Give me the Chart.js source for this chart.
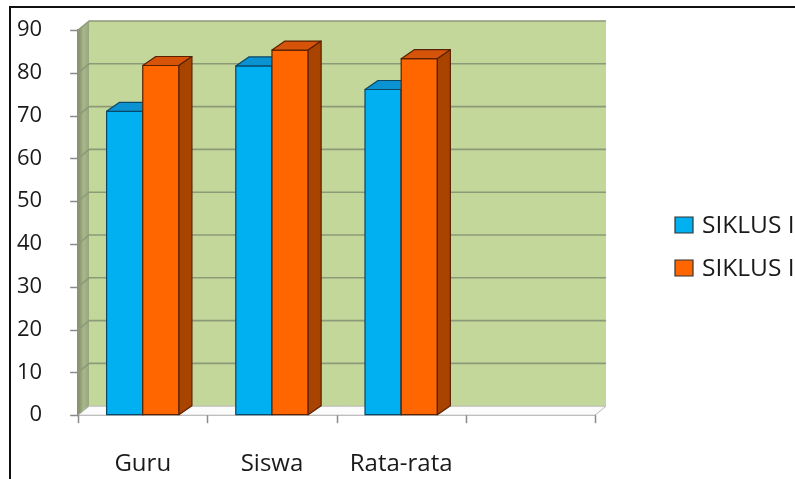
<!DOCTYPE html>
<html>
<head>
<meta charset="utf-8">
<script src="https://cdn.jsdelivr.net/npm/chart.js@4.4.0/dist/chart.umd.min.js"></script>
<style>
  html, body { margin: 0; padding: 0; background: #fff; overflow: hidden; }
  #frame { position: absolute; left: 9px; top: 6px; width: 900px; height: 600px; border: 2px solid #111; }
  #wrap { position: absolute; left: 0; top: 0; width: 795px; height: 479px; }
</style>
</head>
<body>
<div id="frame"></div>
<div id="wrap"><canvas id="chart" width="795" height="479"></canvas></div>
<script>
  // chart data
  const categories = ["Guru", "Siswa", "Rata-rata", ""];
  const siklus1 = [71, 81.6, 76.1, null];
  const siklus2 = [81.7, 85.3, 83.3, null];
  const seriesNames = ["SIKLUS I", "SIKLUS II"];
  const yMin = 0, yMax = 90, yStep = 10;

  const colors = [
    { front: "#00b0f0", top: "#0a93d0", side: "#0a78a8", edge: "#0b4766" },
    { front: "#ff6600", top: "#d5540a", side: "#a84300", edge: "#5a2200" }
  ];
  const FONT = "'Open Sans', sans-serif";
  const AXIS = "#8a8a8a";

  // wall / bar depth offsets
  const wall = { dx: 11, dy: -9 };
  const depth = { dx: 13, dy: -9 };

  const poly = (ctx, pts, fill, stroke, lw) => {
    ctx.beginPath();
    ctx.moveTo(pts[0][0], pts[0][1]);
    for (let i = 1; i < pts.length; i++) ctx.lineTo(pts[i][0], pts[i][1]);
    ctx.closePath();
    if (fill) { ctx.fillStyle = fill; ctx.fill(); }
    if (stroke) { ctx.strokeStyle = stroke; ctx.lineWidth = lw || 1; ctx.stroke(); }
  };

  const line = (ctx, x1, y1, x2, y2) => {
    ctx.beginPath();
    ctx.moveTo(x1, y1);
    ctx.lineTo(x2, y2);
    ctx.stroke();
  };

  const walls3d = {
    id: "walls3d",
    beforeDatasetsDraw(chart) {
      const { ctx, chartArea: a, scales: { x, y } } = chart;
      const y0 = y.getPixelForValue(yMin), yT = y.getPixelForValue(yMax);
      ctx.save();
      // back wall
      poly(ctx, [[a.left + wall.dx, yT + wall.dy], [a.right + wall.dx, yT + wall.dy],
                 [a.right + wall.dx, y0 + wall.dy], [a.left + wall.dx, y0 + wall.dy]], "#c4d79b");
      // left wall
      const g = ctx.createLinearGradient(a.left, 0, a.left + wall.dx, 0);
      g.addColorStop(0, "#7f8c66");
      g.addColorStop(0.5, "#a9b78c");
      g.addColorStop(1, "#97a67a");
      poly(ctx, [[a.left, yT], [a.left + wall.dx, yT + wall.dy],
                 [a.left + wall.dx, y0 + wall.dy], [a.left, y0]], g);
      // floor
      poly(ctx, [[a.left, y0], [a.left + wall.dx, y0 + wall.dy],
                 [a.right + wall.dx, y0 + wall.dy], [a.right, y0]], "#fbfbfb", "#b8b8b8", 1);
      // gridlines on the back wall
      ctx.strokeStyle = "#8c9a78";
      ctx.lineWidth = 1.6;
      for (let v = yMin + yStep; v <= yMax; v += yStep) {
        const py = y.getPixelForValue(v);
        ctx.beginPath();
        ctx.moveTo(a.left, py);
        ctx.lineTo(a.left + wall.dx, py + wall.dy);
        ctx.lineTo(a.right + wall.dx, py + wall.dy);
        ctx.stroke();
      }
      // tick marks on both axes
      ctx.strokeStyle = AXIS;
      ctx.lineWidth = 1.5;
      const step = (a.right - a.left) / chart.data.labels.length;
      for (let i = 0; i <= chart.data.labels.length; i++) {
        const px = Math.round(x.getPixelForValue(0) - step / 2 + i * step) + 0.5;
        line(ctx, px, y0, px, y0 + 8);
      }
      y.ticks.forEach((t) => {
        const py = Math.round(y.getPixelForValue(t.value)) + 0.5;
        line(ctx, a.left - 8, py, a.left, py);
      });
      ctx.restore();
    },
    afterDatasetsDraw(chart) {
      const { ctx } = chart;
      ctx.save();
      ctx.lineJoin = "round";
      const n = chart.data.labels.length;
      for (let i = 0; i < n; i++) {
        chart.data.datasets.forEach((ds, d) => {
          const bar = chart.getDatasetMeta(d).data[i];
          if (ds.data[i] == null || !bar) return;
          const c = colors[d];
          const half = bar.width / 2;
          const l = bar.x - half, r = bar.x + half, t = bar.y, b = bar.base;
          poly(ctx, [[l, b], [l, t], [r, t], [r, b]], c.front, c.edge, 1.2);
          poly(ctx, [[l, t], [l + depth.dx, t + depth.dy], [r + depth.dx, t + depth.dy], [r, t]], c.top, c.edge, 1.2);
          poly(ctx, [[r, t], [r + depth.dx, t + depth.dy], [r + depth.dx, b + depth.dy], [r, b]], c.side, c.edge, 1.2);
        });
      }
      ctx.restore();
    },
    afterDraw(chart) {
      const { ctx } = chart;
      ctx.save();
      ctx.font = "24.5px " + FONT;
      ctx.textBaseline = "middle";
      chart.data.datasets.forEach((ds, d) => {
        const ly = 225 + d * 43;
        poly(ctx, [[675, ly - 8], [693, ly - 8], [693, ly + 8], [675, ly + 8]], colors[d].front, "#333", 1.2);
        ctx.fillStyle = "#1a1a1a";
        ctx.fillText(ds.label, 702, ly + 1);
      });
      ctx.restore();
    }
  };

  new Chart(document.getElementById("chart"), {
    type: "bar",
    data: {
      labels: categories,
      datasets: [
        { label: seriesNames[0], data: siklus1, backgroundColor: colors[0].front },
        { label: seriesNames[1], data: siklus2, backgroundColor: colors[1].front }
      ]
    },
    options: {
      responsive: false,
      animation: false,
      events: [],
      layout: { padding: { left: 15, right: 200, top: 30, bottom: 0 } },
      datasets: { bar: { categoryPercentage: 0.56, barPercentage: 1.0 } },
      plugins: { legend: { display: false }, tooltip: { enabled: false } },
      scales: {
        x: {
          grid: { drawOnChartArea: false, tickLength: 35, tickColor: "rgba(0,0,0,0)" },
          border: { color: AXIS, width: 1.5 },
          ticks: { color: "#1a1a1a", font: { family: FONT, size: 24 }, padding: 0, maxRotation: 0 }
        },
        y: {
          min: yMin, max: yMax,
          grid: { drawOnChartArea: false, tickLength: 34, tickColor: "rgba(0,0,0,0)" },
          border: { color: AXIS, width: 1.5 },
          ticks: { stepSize: yStep, color: "#1a1a1a", font: { family: FONT, size: 22 }, padding: 2 }
        }
      }
    },
    plugins: [walls3d]
  });
</script>
</body>
</html>
